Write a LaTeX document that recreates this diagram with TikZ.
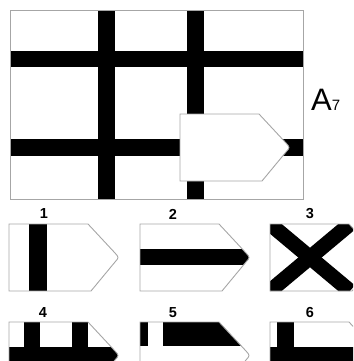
\documentclass[tikz,border=0pt]{standalone}
\usepackage{fontspec}
\setmainfont{Liberation Sans}
\usepackage{tikz}

\tikzset{
  edge/.style={draw=black!35, line width=0.9pt},
  bar/.style={fill=black},
  num/.style={font=\fontsize{14.5}{14.5}\selectfont\bfseries, inner sep=0pt}
}
% outline of one pentagon piece, top left corner at (0,0)
\newcommand{\pieceshape}{(0,0) -- (79,0) -- (106,29) .. controls (110,33.5) .. (106,38) -- (82,67) -- (0,67) -- cycle}

\begin{document}
\begin{tikzpicture}[x=1pt,y=-1pt]
\useasboundingbox (0,0) rectangle (353,361);
\clip (0,0) rectangle (353,361);
% board
\fill[bar] (98,10) rectangle (115,199);
\fill[bar] (187,10) rectangle (204,199);
\fill[bar] (10,51) rectangle (303,67);
\fill[bar] (10,139) rectangle (303,156);
\draw[edge] (10,10) rectangle (303,199);
\begin{scope}[shift={(180,114)}]
\filldraw[edge, fill=white] \pieceshape;
\end{scope}
\node[anchor=base west, inner sep=0pt] (a7) at (311,110.5)
  {\fontsize{31}{31}\selectfont A\fontsize{15}{15}\selectfont 7};

% piece 1
\begin{scope}[shift={(9,224)}]
\begin{scope} \clip \pieceshape; \fill[bar] (20,0) rectangle (38,67); \end{scope}
\draw[edge] \pieceshape;
\end{scope}
% piece 2
\begin{scope}[shift={(140,224)}]
\begin{scope} \clip \pieceshape; \fill[bar] (0,25) rectangle (115,41); \end{scope}
\draw[edge] \pieceshape;
\end{scope}
% piece 3
\begin{scope}[shift={(270,224)}]
\begin{scope} \clip \pieceshape;
\draw[line width=15pt] (0,0) -- (80,67);
\draw[line width=15pt] (0,67) -- (80,0);
\end{scope}
\draw[edge] \pieceshape;
\end{scope}
% piece 4
\begin{scope}[shift={(9,322)}]
\begin{scope} \clip \pieceshape;
\fill[bar] (15,0) rectangle (31,25);
\fill[bar] (63,0) rectangle (79,25);
\fill[bar] (0,25) rectangle (115,41);
\end{scope}
\draw[edge] \pieceshape;
\end{scope}
% piece 5
\begin{scope}[shift={(140,322)}]
\begin{scope} \clip \pieceshape;
\fill[bar] (0,0) rectangle (8,24);
\fill[bar] (23,0) rectangle (115,24);
\end{scope}
\draw[edge] \pieceshape;
\end{scope}
% piece 6
\begin{scope}[shift={(270,322)}]
\begin{scope} \clip \pieceshape;
\fill[bar] (7,0) rectangle (24,25);
\fill[bar] (0,25) rectangle (115,41);
\end{scope}
\draw[edge] \pieceshape;
\end{scope}

% numbers
\node[num] (n1) at (44,214) {1};
\node[num] (n2) at (173,214) {2};
\node[num] (n3) at (310,214) {3};
\node[num] (n4) at (43,313) {4};
\node[num] (n5) at (173,313) {5};
\node[num] (n6) at (310,313) {6};
\end{tikzpicture}
\end{document}
